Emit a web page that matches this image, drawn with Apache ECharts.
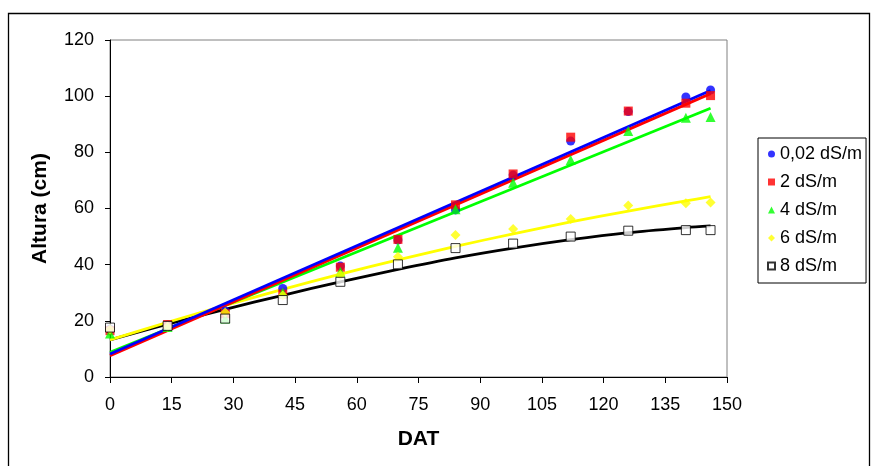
<!DOCTYPE html>
<html><head><meta charset="utf-8">
<script src="https://cdn.jsdelivr.net/npm/echarts@6/dist/echarts.min.js"></script>
<style>html,body{margin:0;padding:0;background:#fff}#c{width:871px;height:466px}</style>
</head><body><div id="c"></div>
<script>
// Observation days (DAT)
var days = [0, 14, 28, 42, 56, 70, 84, 98, 112, 126, 140, 146];
var seriesNames = ['0,02 dS/m', '2 dS/m', '4 dS/m', '6 dS/m', '8 dS/m'];
// Measured heights (cm)
var h002 = [17.0, 18.5, 23.5, 31.5, 39.5, 48.8, 59.5, 71.9, 84.0, 94.5, 99.7, 102.2];
var h2   = [16.5, 18.7, 22.5, 29.5, 39.1, 49.0, 61.3, 72.3, 85.4, 94.7, 97.5, 100.2];
var h4   = [15.5, 17.8, 20.8, 30.0, 37.5, 46.0, 59.7, 69.2, 77.3, 87.6, 92.3, 92.6];
var h6   = [17.0, 18.0, 23.0, 29.0, 36.3, 42.8, 50.6, 52.7, 56.3, 61.1, 61.9, 62.1];
var h8   = [17.6, 18.2, 20.8, 27.4, 33.9, 40.1, 45.9, 47.5, 50.0, 52.1, 52.3, 52.3];
// Trend lines
var trendLinX = [0, 146];
var trend002 = [8.2, 102.0];
var trend2   = [7.6, 100.9];
var trend4   = [8.8, 95.7];
var trendCurveX = [0, 14, 28, 42, 56, 70, 84, 98, 112, 126, 140, 146];
var trend6 = [13.2, 19.5, 25.5, 31.2, 36.6, 41.7, 46.5, 51.0, 55.2, 59.1, 62.7, 64.2];
var trend8 = [13.2, 18.8, 24.1, 29.1, 33.9, 38.3, 42.4, 45.9, 48.9, 51.4, 53.2, 53.8];
var xTicks = [0, 15, 30, 45, 60, 75, 90, 105, 120, 135, 150];
var yTicks = [0, 20, 40, 60, 80, 100, 120];

function pairs(xs, ys){ return xs.map(function(x,i){ return [x, ys[i]]; }); }

var colors = ['#0000FF', '#FF0000', '#00FF00', '#FFFF00', '#000000'];
var measured = [h002, h2, h4, h6, h8];
var symbols = ['circle', 'rect', 'triangle', 'diamond', 'rect'];
var sizes = [9, 9, 10, 10, 9];
var trends = [[trendLinX, trend002], [trendLinX, trend2], [trendLinX, trend4], [trendCurveX, trend6], [trendCurveX, trend8]];

var series = [];
for (var i = 4; i >= 0; i--) {
  series.push({
    type: 'line', name: 'trend' + i, data: pairs(trends[i][0], trends[i][1]),
    showSymbol: false, smooth: i >= 3 ? 0.3 : false, silent: true, z: 2,
    lineStyle: { color: colors[i], width: 2.8 }
  });
}
for (var j = 0; j < 5; j++) {
  series.push({
    type: 'scatter', name: seriesNames[j], data: pairs(days, measured[j]),
    symbol: symbols[j], symbolSize: sizes[j], z: 3,
    itemStyle: j === 4 ? { color: '#FFFFFF', borderColor: '#000000', borderWidth: 1 } : { color: colors[j] }
  });
}

var chart = echarts.init(document.getElementById('c'), null, { renderer: 'canvas' });
chart.setOption({
  animation: false,
  backgroundColor: '#FFFFFF',
  textStyle: { fontFamily: 'Liberation Sans, Arial, sans-serif' },
  graphic: [{
    type: 'rect', silent: true, z: 0,
    shape: { x: 8.5, y: 13.5, width: 861, height: 470 },
    style: { fill: 'none', stroke: '#000', lineWidth: 1.3 }
  }],
  grid: { left: 110, right: 144, top: 40, bottom: 89, show: true, borderColor: '#808080', borderWidth: 1, backgroundColor: 'transparent' },
  legend: {
    data: seriesNames, orient: 'vertical', left: 758, top: 138,
    padding: [7, 4, 8, 9], itemGap: 10, itemWidth: 7, itemHeight: 7,
    borderColor: '#000', borderWidth: 1, backgroundColor: '#fff',
    textStyle: { fontSize: 18, color: '#000', fontFamily: 'Liberation Sans, Arial, sans-serif' }
  },
  xAxis: {
    type: 'value', min: 0, max: 150, interval: 15,
    name: 'DAT', nameLocation: 'middle', nameGap: 52,
    nameTextStyle: { fontSize: 21, fontWeight: 'bold', color: '#000' },
    axisLine: { show: true, lineStyle: { color: '#000', width: 1 } },
    axisTick: { show: true, inside: false, length: 6, lineStyle: { color: '#000' } },
    axisLabel: { fontSize: 18, color: '#000', margin: 19 },
    splitLine: { show: false }
  },
  yAxis: {
    type: 'value', min: 0, max: 120, interval: 20,
    name: 'Altura (cm)', nameLocation: 'middle', nameGap: 59, nameRotate: 90,
    nameTextStyle: { fontSize: 21, fontWeight: 'bold', color: '#000' },
    axisLine: { show: true, lineStyle: { color: '#000', width: 1 } },
    axisTick: { show: true, inside: false, length: 5, lineStyle: { color: '#000' } },
    axisLabel: { fontSize: 18, color: '#000', margin: 16 },
    splitLine: { show: false }
  },
  series: series
});
</script>
</body></html>
